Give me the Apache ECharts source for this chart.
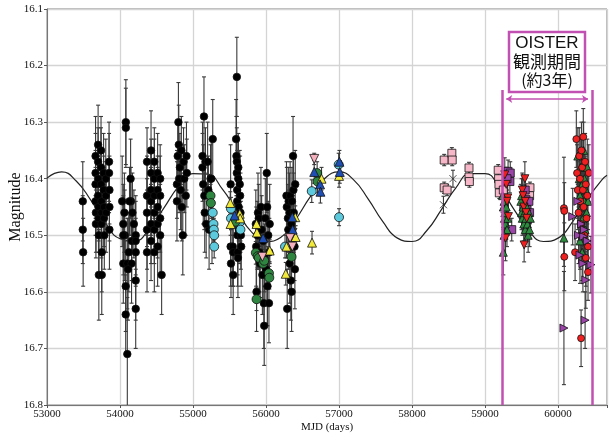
<!DOCTYPE html>
<html>
<head>
<meta charset="utf-8">
<script src="https://cdn.jsdelivr.net/npm/echarts@6/dist/echarts.min.js"></script>
<style>
html,body{margin:0;padding:0;background:#fff;}
#main{width:613px;height:436px;}
</style>
</head>
<body>
<div id="main"></div>
<script>
// every point is [MJD, magnitude, error]
let blackPts = [
    [53490,16.44,0.07],[53490,16.49,0.06],[53495,16.53,0.06],
    [53665,16.36,0.07],[53665,16.39,0.07],[53665,16.41,0.06],[53665,16.44,0.06],[53670,16.46,0.07],[53670,16.48,0.06],
    [53700,16.34,0.07],[53700,16.37,0.06],[53700,16.40,0.06],[53700,16.43,0.07],[53705,16.45,0.06],[53705,16.47,0.06],[53710,16.50,0.07],[53710,16.57,0.08],
    [53740,16.35,0.06],[53740,16.38,0.07],[53740,16.41,0.06],[53745,16.44,0.06],[53745,16.46,0.07],[53745,16.48,0.06],[53750,16.53,0.07],[53750,16.57,0.07],
    [53775,16.39,0.07],[53775,16.42,0.06],[53780,16.45,0.07],[53780,16.47,0.06],[53785,16.50,0.06],
    [53805,16.40,0.07],[53805,16.43,0.06],[53810,16.46,0.07],
    [53850,16.37,0.07],[53850,16.39,0.07],[53855,16.42,0.06],[53855,16.45,0.06],[53855,16.49,0.07],
    [54080,16.30,0.075],[54080,16.31,0.07],[54145,16.40,0.07],[54150,16.44,0.06],[54045,16.48,0.07],[54065,16.50,0.08],
    [54045,16.55,0.07],[54100,16.55,0.08],[54158,16.55,0.07],[54120,16.53,0.07],[54078,16.59,0.08],[54078,16.64,0.07],
    [54110,16.56,0.09],[54160,16.51,0.07],[54215,16.50,0.07],[54215,16.51,0.07],[54215,16.53,0.06],[54215,16.58,0.07],
    [54215,16.63,0.07],[54170,16.46,0.07],[54130,16.44,0.06],[54100,16.71,0.1],[54045,16.50,0.07],[54060,16.46,0.07],
    [54190,16.48,0.06],[54030,16.44,0.08],
    [54370,16.37,0.06],[54370,16.43,0.07],[54370,16.46,0.06],[54370,16.49,0.07],[54370,16.53,0.07],
    [54425,16.35,0.07],[54425,16.39,0.06],[54425,16.42,0.07],[54425,16.44,0.06],[54425,16.48,0.07],[54425,16.51,0.07],
    [54470,16.37,0.06],[54470,16.40,0.07],[54470,16.43,0.06],[54470,16.46,0.07],[54470,16.49,0.06],[54470,16.53,0.07],
    [54515,16.39,0.07],[54515,16.42,0.06],[54515,16.45,0.07],[54515,16.48,0.06],[54515,16.52,0.07],
    [54550,16.40,0.06],[54550,16.43,0.07],[54550,16.47,0.06],[54550,16.50,0.07],[54570,16.57,0.07],
    [54780,16.41,0.06],[54780,16.44,0.07],[54790,16.36,0.06],[54800,16.30,0.07],[54805,16.34,0.07],[54810,16.40,0.06],
    [54820,16.38,0.06],[54830,16.42,0.07],[54840,16.35,0.06],[54845,16.45,0.06],[54860,16.50,0.07],[54870,16.37,0.06],
    [54880,16.40,0.06],[54900,16.43,0.07],[54910,16.36,0.06],[54915,16.39,0.06],
    [55130,16.36,0.06],[55130,16.38,0.06],[55140,16.41,0.07],[55150,16.29,0.07],[55155,16.43,0.06],[55160,16.46,0.07],
    [55170,16.37,0.06],[55200,16.37,0.07],[55210,16.42,0.06],[55220,16.49,0.07],[55240,16.40,0.06],[55250,16.40,0.07],
    [55260,16.49,0.06],[55270,16.33,0.07],[55180,16.48,0.06],
    [55515,16.41,0.07],[55515,16.52,0.07],[55520,16.55,0.06],[55545,16.52,0.07],[55550,16.53,0.06],[55550,16.57,0.07],
    [55590,16.33,0.07],[55595,16.36,0.07],[55600,16.22,0.07],[55600,16.37,0.06],[55600,16.39,0.06],[55605,16.42,0.07],
    [55605,16.44,0.06],[55610,16.50,0.07],[55610,16.53,0.06],[55615,16.54,0.07],[55620,16.38,0.06],[55620,16.40,0.07],
    [55625,16.45,0.06],[55630,16.47,0.07],[55630,16.49,0.06],[55640,16.41,0.06],[55645,16.43,0.07],[55650,16.46,0.07],
    [55655,16.50,0.06],[55660,16.52,0.07],
    [55860,16.48,0.06],[55865,16.52,0.07],[55870,16.60,0.07],[55880,16.50,0.06],[55890,16.46,0.07],[55900,16.47,0.06],
    [55910,16.53,0.07],[55920,16.55,0.06],[55930,16.45,0.07],[55940,16.49,0.06],[55950,16.57,0.07],[55960,16.51,0.06],
    [55970,16.62,0.08],[55975,16.66,0.07],[55980,16.54,0.06],[55990,16.47,0.07],[56000,16.56,0.06],[56010,16.39,0.07],
    [56015,16.45,0.06],[56020,16.59,0.07],[56030,16.50,0.06],[56040,16.62,0.07],[56045,16.53,0.06],[56050,16.48,0.07],
    [56280,16.43,0.06],[56285,16.45,0.07],[56290,16.63,0.07],[56300,16.47,0.06],[56305,16.49,0.07],[56310,16.44,0.06],
    [56320,16.46,0.07],[56325,16.55,0.07],[56330,16.43,0.06],[56340,16.58,0.07],[56345,16.48,0.06],[56350,16.60,0.07],
    [56355,16.44,0.06],[56370,16.36,0.07],[56375,16.42,0.06],[56380,16.46,0.07],[56390,16.52,0.06],[56395,16.56,0.07],
    [56400,16.41,0.06]
];
let cyanPts = [
    [55270,16.46,0.02],[55280,16.48,0.02],[55285,16.49,0.02],[55290,16.50,0.02],[55290,16.52,0.02],
    [55520,16.453,0.02],[55520,16.47,0.02],[55640,16.477,0.02],[55650,16.49,0.02],[56260,16.52,0.02],
    [56626,16.422,0.02],[56995,16.375,0.02],[57000,16.468,0.015]
];
let greenCirclePts = [
    [55240,16.43,0.02],[55245,16.443,0.02],[55580,16.476,0.02],[55860,16.531,0.02],[55885,16.537,0.02],
    [55900,16.54,0.02],[55960,16.55,0.02],[55975,16.545,0.02],[56040,16.567,0.02],[56045,16.575,0.02],
    [55870,16.613,0.02],[56350,16.538,0.02],[56700,16.39,0.02],[56705,16.405,0.02]
];
let yellowPts = [
    [55510,16.443,0.02],[55515,16.48,0.02],[55640,16.462,0.02],[55645,16.47,0.02],[55870,16.48,0.02],
    [55875,16.495,0.02],[56050,16.527,0.02],[56270,16.568,0.02],[56280,16.52,0.02],[56400,16.468,0.02],
    [56405,16.503,0.02],[56630,16.513,0.02],[56760,16.40,0.02],[57000,16.395,0.02]
];
let bluePts = [
    [55570,16.465,0.02],[55960,16.505,0.02],[56360,16.468,0.02],[56365,16.49,0.02],[56660,16.388,0.02],
    [56740,16.41,0.02],[56745,16.423,0.02],[57005,16.37,0.02],[57010,16.388,0.02]
];
let pinkTriPts = [
    [55950,16.538,0.02],[56330,16.505,0.02],[56360,16.52,0.02],[56660,16.365,0.01]
];
let pinkSquarePts = [
    [58440,16.367,0.01],[58545,16.355,0.01],[58550,16.367,0.01],[58440,16.416,0.01],[58480,16.42,0.01],
    [58780,16.381,0.01],[58780,16.397,0.01],[58785,16.405,0.01],
    [59180,16.385,0.01],[59185,16.40,0.01],[59190,16.41,0.01],[59195,16.425,0.01],[59250,16.42,0.01],
    [59615,16.416,0.01],[59610,16.43,0.01]
];
let crossPts = [
    [58430,16.446,0.015],[58560,16.40,0.015]
];
let purpleSquarePts = [
    [59315,16.387,0.02],[59345,16.39,0.02],[59340,16.405,0.02],[59300,16.40,0.02],[59365,16.49,0.02],
    [59560,16.437,0.02],[59575,16.455,0.02],[59580,16.472,0.02],[59550,16.42,0.02],[59600,16.44,0.02],
    [59610,16.46,0.02],[59530,16.45,0.02]
];
let greenTriPts = [
    [59240,16.43,0.03],[59250,16.45,0.03],[59260,16.44,0.03],[59265,16.47,0.03],[59270,16.46,0.03],
    [59280,16.48,0.03],[59290,16.45,0.03],[59300,16.49,0.03],[59310,16.47,0.03],[59250,16.53,0.04],[59260,16.50,0.03],
    [59490,16.44,0.03],[59500,16.46,0.03],[59510,16.47,0.03],[59520,16.45,0.03],[59530,16.48,0.03],
    [59540,16.46,0.03],[59550,16.49,0.03],[59560,16.47,0.03],[59570,16.45,0.03],[59580,16.48,0.03],
    [59590,16.50,0.03],[59600,16.46,0.03],[59610,16.49,0.03],[59500,16.43,0.03],[59620,16.47,0.03],
    [60080,16.505,0.05],
    [60270,16.36,0.05],[60290,16.40,0.05],[60300,16.43,0.05],[60310,16.38,0.05],[60320,16.45,0.05],
    [60330,16.41,0.05],[60340,16.47,0.05],[60350,16.35,0.05],[60360,16.44,0.05],[60370,16.49,0.05],
    [60380,16.42,0.05],[60390,16.46,0.05],[60300,16.51,0.05],[60330,16.53,0.05],[60360,16.40,0.05],
    [60400,16.38,0.05],[60410,16.44,0.05]
];
let redTriPts = [
    [59270,16.393,0.03],[59290,16.41,0.03],[59310,16.434,0.03],[59320,16.467,0.03],[59280,16.505,0.04],
    [59300,16.44,0.03],[59510,16.42,0.03],[59520,16.43,0.03],[59530,16.45,0.03],[59535,16.517,0.03],
    [59550,16.44,0.03],[59560,16.46,0.03],[59570,16.47,0.03],[59545,16.40,0.03]
];
let redCirclePts = [
    [60080,16.452,0.09],[60085,16.457,0.05],[60085,16.538,0.06],[60315,16.682,0.05],
    [60250,16.33,0.05],[60260,16.39,0.05],[60270,16.42,0.05],[60280,16.46,0.05],[60290,16.36,0.05],
    [60300,16.40,0.05],[60305,16.44,0.05],[60310,16.48,0.05],[60320,16.35,0.05],[60330,16.38,0.05],
    [60340,16.42,0.05],[60350,16.45,0.05],[60360,16.50,0.05],[60370,16.37,0.05],[60380,16.41,0.05],
    [60390,16.47,0.05],[60400,16.43,0.05],[60410,16.52,0.05],[60420,16.39,0.05],[60345,16.326,0.05],
    [60233,16.53,0.05],[60410,16.565,0.05],[60320,16.50,0.05],[60380,16.54,0.05]
];
let purpleTriPts = [
    [60080,16.664,0.1],[60370,16.65,0.05],[60200,16.467,0.05],[60280,16.50,0.05],[60300,16.535,0.05],
    [60320,16.48,0.05],[60340,16.55,0.05],[60350,16.502,0.05],[60360,16.49,0.05],[60380,16.579,0.05],
    [60400,16.51,0.05],[60450,16.552,0.05],[60270,16.44,0.05]
];

// model curve
let modelMjd = [53000,53200,53400,53600,53800,54000,54200,54400,54600,54800,55000,55200,55400,55600,55800,
    56000,56200,56400,56600,56800,57000,57200,57400,57600,57800,58000,58200,58400,58600,58800,59000,59200,
    59400,59600,59800,60000,60200,60400,60600,60670];
let modelMag = [16.399,16.388,16.404,16.438,16.478,16.506,16.510,16.489,16.452,16.414,16.391,16.392,16.418,16.457,16.494,
    16.511,16.504,16.473,16.433,16.400,16.388,16.402,16.436,16.476,16.505,16.511,16.492,16.455,16.416,16.391,16.391,16.416,
    16.455,16.492,16.511,16.505,16.476,16.436,16.402,16.394];

let oisterStart = 59233, oisterEnd = 60466;
let oisterLines = ['OISTER', '観測期間', '(約3年)'];

let magenta = '#c24fb2';
let serif = 'Liberation Serif';

function errorBar(params, api) {
    let x = api.value(0), y = api.value(1), e = api.value(2);
    let top = api.coord([x, y - e]);
    let bot = api.coord([x, y + e]);
    let c = 2;
    let st = {stroke: '#3a3a3a', lineWidth: 1.1};
    return {
        type: 'group',
        children: [
            {type: 'line', shape: {x1: top[0], y1: top[1], x2: bot[0], y2: bot[1]}, style: st},
            {type: 'line', shape: {x1: top[0] - c, y1: top[1], x2: top[0] + c, y2: top[1]}, style: st},
            {type: 'line', shape: {x1: bot[0] - c, y1: bot[1], x2: bot[0] + c, y2: bot[1]}, style: st}
        ]
    };
}

function points(data, symbol, size, color, rotate) {
    return {
        type: 'scatter',
        data: data.map(p => [p[0], p[1]]),
        symbol: symbol,
        symbolSize: size,
        symbolRotate: rotate || 0,
        itemStyle: {color: color, borderColor: '#111', borderWidth: 0.8, opacity: 1},
        z: 4,
        silent: true
    };
}

let allPts = [].concat(blackPts, cyanPts, greenCirclePts, yellowPts, bluePts, pinkTriPts, pinkSquarePts,
    crossPts, purpleSquarePts, greenTriPts, redTriPts, redCirclePts, purpleTriPts);

let chart = echarts.init(document.getElementById('main'));
let option = {
    animation: false,
    grid: {
        left: 47, right: 6, top: 9, bottom: 31,
        containLabel: false, outerBoundsMode: 'none',
        show: true, borderColor: '#777', borderWidth: 1
    },
    xAxis: {
        type: 'value',
        min: 53000,
        max: 60670,
        interval: 1000,
        name: 'MJD (days)',
        nameLocation: 'middle',
        nameGap: 17,
        nameMoveOverlap: false,
        nameTextStyle: {fontFamily: serif, fontSize: 11, color: '#111'},
        axisLine: {lineStyle: {color: '#777'}},
        axisTick: {length: 3, lineStyle: {color: '#555'}},
        axisLabel: {
            fontFamily: serif, fontSize: 11, color: '#111', margin: 4,
            formatter: v => (v % 1000 === 0 ? String(v) : '')
        },
        splitLine: {lineStyle: {color: '#d4d4d4', width: 1.3}}
    },
    yAxis: {
        type: 'value',
        inverse: true,
        min: 16.1,
        max: 16.8,
        interval: 0.1,
        name: 'Magnitude',
        nameLocation: 'middle',
        nameGap: 23,
        nameMoveOverlap: false,
        nameTextStyle: {fontFamily: serif, fontSize: 16, color: '#111'},
        axisLine: {lineStyle: {color: '#777'}},
        axisTick: {length: 3, lineStyle: {color: '#555'}},
        axisLabel: {fontFamily: serif, fontSize: 11, color: '#111', margin: 4, formatter: v => v.toFixed(1)},
        splitLine: {lineStyle: {color: '#d4d4d4', width: 1.3}}
    },
    series: [
        {
            type: 'line',
            data: modelMjd.map((m, i) => [m, modelMag[i]]),
            smooth: true,
            showSymbol: false,
            lineStyle: {color: '#222', width: 1.2},
            z: 2,
            silent: true,
            markLine: {
                silent: true,
                symbol: ['none', 'none'],
                label: {show: false},
                lineStyle: {color: magenta, width: 2.5, type: 'solid'},
                data: [
                    [{coord: [oisterStart, 16.243]}, {coord: [oisterStart, 16.8]}],
                    [{coord: [oisterEnd, 16.243]}, {coord: [oisterEnd, 16.8]}],
                    [
                        {coord: [59290, 16.259], symbol: 'arrow', symbolSize: 6, lineStyle: {width: 1.5}},
                        {coord: [60410, 16.259], symbol: 'arrow', symbolSize: 6}
                    ]
                ]
            }
        },
        {
            type: 'custom',
            renderItem: errorBar,
            data: allPts,
            encode: {x: 0, y: 1},
            clip: true,
            z: 3,
            silent: true
        },
        points(blackPts, 'circle', 7.5, '#000'),
        points(cyanPts, 'circle', 9, '#5cc9dc'),
        points(greenCirclePts, 'circle', 9, '#2e8540'),
        points(yellowPts, 'triangle', 9, '#f2ea3a'),
        points(bluePts, 'triangle', 9, '#1f4fb5'),
        points(pinkTriPts, 'triangle', 9, '#f5b0be', 180),
        points(pinkSquarePts, 'rect', 8, '#f6b8c8'),
        {
            type: 'scatter',
            data: crossPts.map(p => [p[0], p[1]]),
            symbol: 'path://M0,0L10,10M0,10L10,0',
            symbolSize: 7,
            itemStyle: {color: 'transparent', borderColor: '#222', borderWidth: 1},
            z: 4,
            silent: true
        },
        points(purpleSquarePts, 'rect', 8, '#9a44a8'),
        points(greenTriPts, 'triangle', 8, '#2d8a3e'),
        points(redTriPts, 'triangle', 8, '#f02020', 180),
        points(redCirclePts, 'circle', 7, '#f02020'),
        points(purpleTriPts, 'triangle', 8, '#9a44a8', -90)
    ],
    graphic: [
        {
            type: 'rect',
            shape: {x: 509, y: 32, width: 76, height: 60},
            style: {fill: '#fff', stroke: magenta, lineWidth: 2.5},
            z: 10
        },
        {
            type: 'text', x: 547, y: 43, z: 11,
            style: {text: oisterLines[0], font: '17px "Liberation Sans"', fill: '#111', textAlign: 'center', textVerticalAlign: 'middle'}
        },
        {
            type: 'text', x: 547, y: 62, z: 11,
            style: {text: oisterLines[1], font: '17px "Noto Sans CJK JP"', fill: '#111', textAlign: 'center', textVerticalAlign: 'middle'}
        },
        {
            type: 'text', x: 547, y: 80, z: 11,
            style: {text: oisterLines[2], font: '16px "Noto Sans CJK JP"', fill: '#111', textAlign: 'center', textVerticalAlign: 'middle'}
        }
    ]
};
chart.setOption(option);
</script>
</body>
</html>
